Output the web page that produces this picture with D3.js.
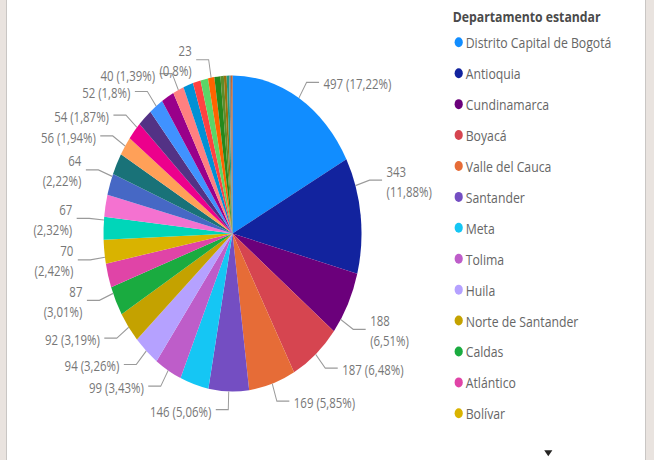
<!DOCTYPE html>
<html><head><meta charset="utf-8">
<script src="https://cdn.jsdelivr.net/npm/d3@7"></script>
<style>body{margin:0;background:#fff} svg{display:block}</style>
</head><body><svg id="c" width="654" height="460"></svg>
<script>
// ---- data ----
const departments = ["Distrito Capital de Bogotá","Antioquia","Cundinamarca","Boyacá","Valle del Cauca","Santander","Meta","Tolima","Huila","Norte de Santander","Caldas","Atlántico","Bolívar","Risaralda","Quindío","Nariño","Cauca","Magdalena","Cesar","Córdoba","Sucre","Casanare","Caquetá","La Guajira","Putumayo","Chocó","Arauca","San Andrés","Amazonas","Guaviare","Vichada","Vaupés","Guainía"];
const values = [497,343,188,187,169,146,104,99,94,92,87,71,70,67,65,64,64,56,54,53,52,46,40,36,28,27,23,22,12,10,9,7,5];
const colors = ["#118DFF","#12239E","#6B007B","#D64550","#E66C37","#744EC2","#15C6F4","#BE5DC9","#B5A1FF","#C4A200","#1AAB40","#E044A7","#D9B300","#00D6B9","#F472D0","#4668C5","#197278","#FFA058","#EC008C","#533285","#4092FF","#99008A","#FF8080","#0091D5","#FF4141","#5BD667","#FF6300","#25891C","#5C8C2A","#99700A","#1F9A85","#7F8C8D","#C94F0F"];
const legendTitle = "Departamento estandar";
const legendCount = 13;
const labelled = ["Distrito Capital de Bogotá","Antioquia","Cundinamarca","Boyacá","Valle del Cauca","Santander","Tolima","Huila","Norte de Santander","Caldas","Bolívar","Risaralda","Nariño","Magdalena","Cesar","Sucre","Caquetá","Arauca"];
const twoLine = ["Antioquia","Cundinamarca","Caldas","Bolívar","Risaralda","Nariño","Arauca"];
const labelNudgeDeg = {"Antioquia":-11,"Cundinamarca":6.5,"Caldas":3,"Bolívar":-2,"Risaralda":3,"Nariño":3,"Cesar":1.7};

// ---- layout ----
const W = 654, H = 460, sx = 0.8165;
const svg = d3.select("#c");
svg.append("rect").attr("x",0).attr("y",0).attr("width",6).attr("height",H).attr("fill","#e9e3df");
svg.append("rect").attr("x",6).attr("y",0).attr("width",1).attr("height",H).attr("fill","#c9c6c4");
svg.append("rect").attr("x",646).attr("y",0).attr("width",8).attr("height",H).attr("fill","#e9e3df");
svg.append("rect").attr("x",645).attr("y",0).attr("width",1).attr("height",H).attr("fill","#c9c6c4");

const g = svg.append("g").attr("transform", `scale(${sx},1)`);
const font = "'Segoe UI','Open Sans',sans-serif";
const cx = 232.5/sx, cy = 233.5, R = 158;

const data = departments.map((d,i)=>({name:d, value:values[i], color:colors[i]}));
const total = d3.sum(values);
const pie = d3.pie().sort(null).value(d=>d.value);
const arcs = pie(data);
const arc = d3.arc().innerRadius(0).outerRadius(R);

const pg = g.append("g").attr("transform",`translate(${cx},${cy})`);
pg.selectAll("path.slice").data(arcs).join("path")
  .attr("class","slice")
  .attr("d",arc)
  .attr("fill",d=>d.data.color);

const pct = v => {
  const p = +(v/total*100).toFixed(2);
  return String(p).replace(".",",");
};

const lab = pg.append("g");
arcs.filter(a=>labelled.includes(a.data.name)).forEach(a=>{
  const nm = a.data.name;
  const ang = (a.startAngle+a.endAngle)/2 + (labelNudgeDeg[nm]||0)*Math.PI/180;
  const s = Math.sin(ang), c = -Math.cos(ang);
  const side = s >= 0 ? 1 : -1;
  const p0 = [R*s, R*c], p1 = [R*1.115*s, R*1.115*c], p2 = [p1[0]+side*15.3, p1[1]];
  lab.append("polyline")
    .attr("points",[p0,p1,p2].map(p=>p.join(",")).join(" "))
    .attr("fill","none").attr("stroke","#9a9a9a").attr("stroke-width",1.2);
  const tx = p2[0]+side*5.5;
  const t = lab.append("text")
    .attr("x",tx).attr("text-anchor", side>0?"start":"end")
    .attr("font-family",font).attr("font-size",14).attr("fill","#777")
    .attr("dominant-baseline","central");
  const v = String(a.data.value), p = "(" + pct(a.data.value) + "%)";
  if (twoLine.includes(nm)) {
    t.append("tspan").attr("x",tx).attr("y",p1[1]-9).text(v);
    t.append("tspan").attr("x",tx).attr("y",p1[1]+11).text(p);
  } else {
    t.attr("y",p1[1]+1.5).text(v+" "+p);
  }
});

// ---- legend ----
const lx = 452.7/sx;
g.append("text").attr("x",lx).attr("y",15.7).attr("dominant-baseline","central")
  .attr("font-family",font).attr("font-size",15).attr("font-weight","bold").attr("fill","#4a4a4a")
  .text(legendTitle);
const ly = d3.scaleLinear().domain([0,legendCount-1]).range([42.3,413.3]);
const leg = g.selectAll("g.li").data(data.slice(0,legendCount)).join("g").attr("class","li")
  .attr("transform",(d,i)=>`translate(0,${ly(i)})`);
leg.append("circle").attr("cx",458.7/sx).attr("cy",0).attr("r",5).attr("fill",d=>d.color);
leg.append("text").attr("x",465.7/sx).attr("y",0).attr("dominant-baseline","central")
  .attr("font-family",font).attr("font-size",15).attr("fill","#666")
  .text(d=>d.name);
// scroll arrow
const ax = 548.3/sx, ay = 453.3;
g.append("path").attr("d",`M${ax-5},${ay-3} L${ax+5},${ay-3} L${ax},${ay+3} Z`).attr("fill","#252423");
</script></body></html>
